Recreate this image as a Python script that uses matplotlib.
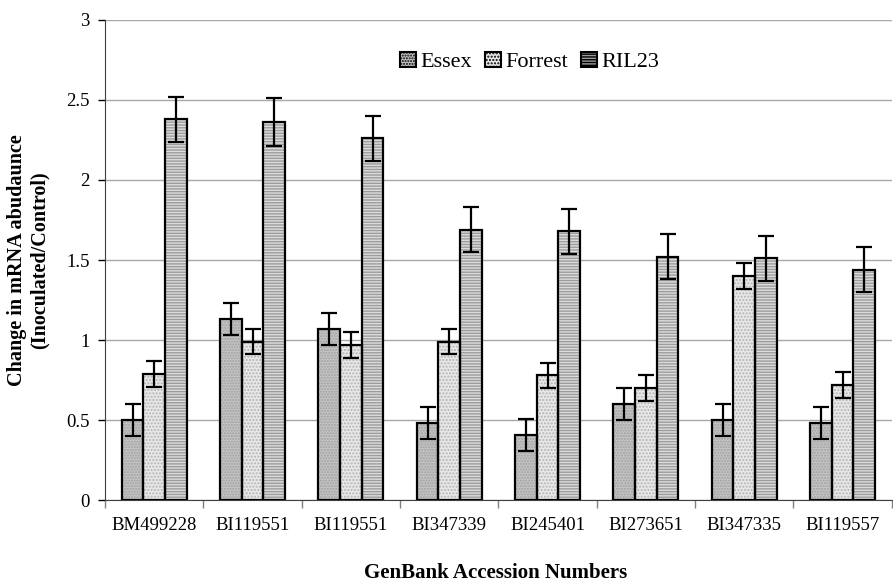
import matplotlib.pyplot as plt
import numpy as np

plt.rcParams['font.family'] = ['Liberation Serif', 'DejaVu Serif']

genes = ['BM499228', 'BI119551', 'BI119551', 'BI347339',
         'BI245401', 'BI273651', 'BI347335', 'BI119557']
essex = [0.50, 1.13, 1.07, 0.48, 0.41, 0.60, 0.50, 0.48]
essex_err = [0.10, 0.10, 0.10, 0.10, 0.10, 0.10, 0.10, 0.10]
forrest = [0.79, 0.99, 0.97, 0.99, 0.78, 0.70, 1.40, 0.72]
forrest_err = [0.08, 0.08, 0.08, 0.08, 0.08, 0.08, 0.08, 0.08]
ril23 = [2.38, 2.36, 2.26, 1.69, 1.68, 1.52, 1.51, 1.44]
ril23_err = [0.14, 0.15, 0.14, 0.14, 0.14, 0.14, 0.14, 0.14]

fig = plt.figure(figsize=(8.93, 5.83), dpi=100)
ax = fig.add_axes([0.1176, 0.142, 0.881, 0.824])

x = np.arange(len(genes))
w = 0.22
series = [
    ('Essex', essex, essex_err, '#c4c4c4', '#a0a0a0', '......'),
    ('Forrest', forrest, forrest_err, '#e8e8e8', '#b4b4b4', '.....'),
    ('RIL23', ril23, ril23_err, '#9c9c9c', '#dcdcdc', '------'),
]
handles = []
for k, (name, vals, errs, fc, hc, hatch) in enumerate(series):
    pos = x + (k - 1) * w
    ax.bar(pos, vals, w, color=fc, edgecolor=hc, hatch=hatch, linewidth=0, zorder=2)
    ax.bar(pos, vals, w, facecolor='none', edgecolor='black', linewidth=1.6, zorder=3)
    ax.errorbar(pos, vals, yerr=errs, fmt='none', ecolor='black', elinewidth=1.6,
                capsize=5.5, capthick=1.6, zorder=4)
    h = plt.Rectangle((0, 0), 1, 1, facecolor=fc, edgecolor='black', hatch=hatch, linewidth=1.5)
    handles.append(h)

ax.set_xlim(-0.5, len(genes) - 0.5)
ax.set_ylim(0, 3)
ax.set_yticks(np.arange(0, 3.01, 0.5))
ax.set_yticklabels(['0', '0.5', '1', '1.5', '2', '2.5', '3'])
ax.yaxis.grid(True, color='#a8a8a8', linewidth=1, zorder=0)
ax.set_axisbelow(True)

ax.set_xticks(x)
ax.set_xticklabels(genes)
ax.set_xticks(np.arange(-0.5, len(genes)), minor=True)
ax.tick_params(axis='x', which='major', length=0, labelsize=13.5, pad=12)
ax.tick_params(axis='x', which='minor', length=6, width=1, color='#808080', direction='out')
ax.tick_params(axis='y', labelsize=13.5, length=5, width=1, direction='out', pad=6)

for s in ['top', 'right']:
    ax.spines[s].set_visible(False)
ax.spines['left'].set_color('#404040')
ax.spines['bottom'].set_color('#404040')

ax.set_ylabel('Change in mRNA abudaunce\n(Inoculated/Control)', fontsize=14.5,
              fontweight='bold', labelpad=12)
fig.text(0.555, 0.009, 'GenBank Accession Numbers', ha='center', fontsize=15,
         fontweight='bold')

ax.legend(handles, ['Essex', 'Forrest', 'RIL23'], loc='upper center',
          bbox_to_anchor=(0.54, 0.975), ncol=3, frameon=False, fontsize=16,
          handlelength=0.7, handleheight=0.7, handletextpad=0.2, columnspacing=0.6)

fig.savefig('out.png', dpi=100)
